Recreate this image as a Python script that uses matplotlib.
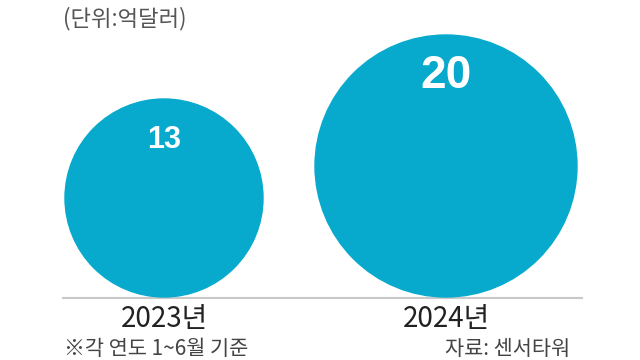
import matplotlib.pyplot as plt
from matplotlib.patches import Circle

# --- data (unit: 100 million USD) ---
years = ["2023년", "2024년"]
values = [13, 20]
unit_label = "(단위:억달러)"
note_label = "※각 연도 1~6월 기준"
source_label = "자료: 센서타워"

# --- style ---
BUBBLE_COLOR = "#07AACD"
BASE_Y = 297          # baseline in pixels (top-down)
SLOT_X = [164, 446]   # bubble centres
R_MAX = 131
KR = ["Noto Sans CJK KR", "DejaVu Sans"]

fig = plt.figure(figsize=(6.4, 3.6), dpi=100)
ax = fig.add_axes([0, 0, 1, 1])
ax.set_xlim(0, 640)
ax.set_ylim(360, 0)
ax.set_aspect("equal")
ax.axis("off")

vmax = max(values)
ax.plot([63, 582], [BASE_Y + 1, BASE_Y + 1], color="#c8c8c8", lw=1.5, zorder=1)

for cx, year, v in zip(SLOT_X, years, values):
    r = R_MAX * (v / vmax) ** 0.65
    cy = BASE_Y - r
    ax.add_patch(Circle((cx, cy), r, color=BUBBLE_COLOR, zorder=2))
    fs = 33 if v == vmax else 22
    ax.text(cx, cy - r + 41, str(v), color="white", fontsize=fs, fontweight="bold",
            family="Liberation Sans", ha="center", va="center", zorder=3)
    ax.text(cx, 319, year, color="#222222", fontsize=20, family=KR,
            ha="center", va="center")

ax.text(63, 19, unit_label, color="#555555", fontsize=16, family=KR,
        ha="left", va="center")
ax.text(64, 349, note_label, color="#444444", fontsize=15, family=KR,
        ha="left", va="center")
ax.text(445, 349, source_label, color="#444444", fontsize=15, family=KR,
        ha="left", va="center")

fig.savefig("out.png", dpi=100)
